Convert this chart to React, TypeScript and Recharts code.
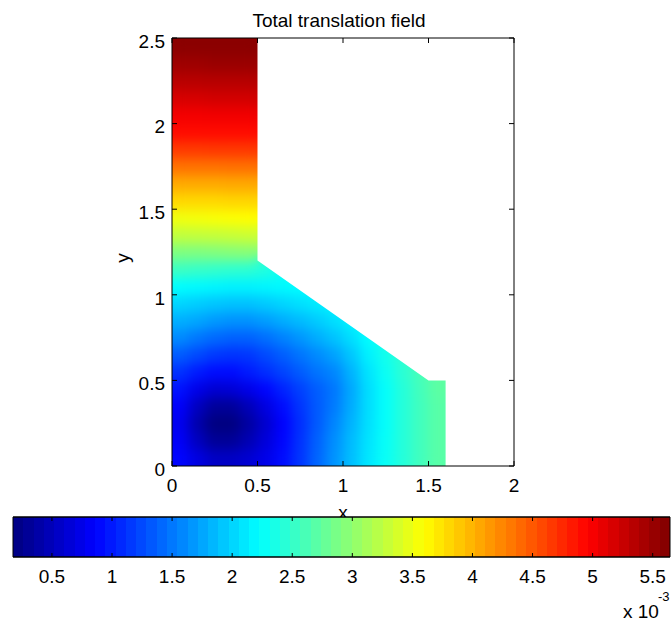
import { ComposedChart, Scatter, Area, XAxis, YAxis, ReferenceArea } from 'recharts'

const FONT = '"Liberation Sans", Arial, sans-serif'

const X_TICKS = [0, 0.5, 1, 1.5, 2]
const Y_TICKS = [0, 0.5, 1, 1.5, 2, 2.5]

// colour scale, in units of 1e-3
const CBAR_MIN = 0.176
const CBAR_MAX = 5.644
const CBAR_TICKS = [0.5, 1, 1.5, 2, 2.5, 3, 3.5, 4, 4.5, 5, 5.5]

// cell centres of the sampled field
const X_CENTERS = [0.05, 0.15, 0.25, 0.35, 0.45, 0.55, 0.65, 0.75, 0.85, 0.95, 1.05, 1.15, 1.25, 1.35, 1.45, 1.55]
const Y_CENTERS = [
  0.05, 0.15, 0.25, 0.35, 0.45, 0.55, 0.65, 0.75, 0.85, 0.95, 1.05, 1.15, 1.25,
  1.35, 1.45, 1.55, 1.65, 1.75, 1.85, 1.95, 2.05, 2.15, 2.25, 2.35, 2.45,
]

// translation (x 1e-3), one row per Y_CENTERS entry, read left to right
const FIELD = [
  [0.88, 0.7, 0.55, 0.55, 0.62, 0.74, 0.92, 1.14, 1.4, 1.65, 1.88, 2.1, 2.27, 2.42, 2.57, 2.7],
  [0.82, 0.52, 0.3, 0.3, 0.45, 0.66, 0.88, 1.12, 1.38, 1.62, 1.86, 2.08, 2.26, 2.42, 2.57, 2.7],
  [0.78, 0.42, 0.18, 0.18, 0.36, 0.6, 0.86, 1.1, 1.34, 1.57, 1.82, 2.06, 2.25, 2.42, 2.57, 2.7],
  [0.84, 0.52, 0.32, 0.32, 0.48, 0.7, 0.92, 1.14, 1.34, 1.52, 1.78, 2.05, 2.25, 2.42, 2.57, 2.7],
  [0.95, 0.74, 0.62, 0.64, 0.74, 0.88, 1.04, 1.2, 1.36, 1.5, 1.76, 2.05, 2.25, 2.42, 2.58, 2.72],
  [1.12, 1.0, 0.92, 0.92, 1.0, 1.1, 1.22, 1.35, 1.48, 1.58, 1.82, 2.08, 2.28, 2.45, 2.6, 2.72],
  [1.35, 1.25, 1.16, 1.13, 1.15, 1.25, 1.36, 1.48, 1.6, 1.72, 1.92, 2.15, 2.32, 2.48],
  [1.6, 1.5, 1.42, 1.38, 1.38, 1.45, 1.55, 1.66, 1.78, 1.9, 2.05, 2.22, 2.36],
  [1.8, 1.75, 1.68, 1.64, 1.64, 1.7, 1.78, 1.86, 1.95, 2.05, 2.16, 2.28],
  [2.0, 1.96, 1.92, 1.9, 1.9, 1.94, 2.0, 2.06, 2.12, 2.18, 2.24],
  [2.22, 2.2, 2.18, 2.16, 2.16, 2.18, 2.2, 2.22, 2.25],
  [2.55, 2.52, 2.5, 2.48, 2.46, 2.4, 2.3, 2.28],
  [2.9, 2.9, 2.92, 2.94, 2.95],
  [3.26, 3.27, 3.28, 3.3, 3.32],
  [3.52, 3.54, 3.56, 3.58, 3.6],
  [3.8, 3.8, 3.8, 3.82, 3.82],
  [4.05, 4.05, 4.05, 4.06, 4.06],
  [4.35, 4.35, 4.35, 4.36, 4.36],
  [4.65, 4.65, 4.66, 4.66, 4.66],
  [4.9, 4.9, 4.9, 4.9, 4.9],
  [5.02, 5.02, 5.03, 5.03, 5.03],
  [5.18, 5.18, 5.2, 5.2, 5.2],
  [5.34, 5.34, 5.35, 5.35, 5.35],
  [5.48, 5.48, 5.5, 5.5, 5.5],
  [5.58, 5.58, 5.58, 5.58, 5.58],
]

// upper/right edge of the part; everything above it is whited out
const EDGE_X = [0.5, 1.5, 1.6, 1.6, 2]
const EDGE_Y = [1.2, 0.5, 0.5, 0, 0]

function jetT(t: number) {
  const c = (k: number) => Math.round(255 * Math.min(1, Math.max(0, 1.5 - Math.abs(4 * t - k))))
  return `rgb(${c(3)},${c(2)},${c(1)})`
}

function jet(v: number) {
  const t = Math.min(1, Math.max(0, (v - CBAR_MIN) / (CBAR_MAX - CBAR_MIN)))
  return jetT(t)
}

const cells = FIELD.flatMap((row, j) => row.map((v, i) => ({ x: X_CENTERS[i], y: Y_CENTERS[j], v })))
const mask = EDGE_X.map((x, i) => ({ x, band: [EDGE_Y[i], 2.5] }))
const cbarPoints = CBAR_TICKS.map((v) => ({ v, h: 0.5 }))
const bands = Array.from({ length: 64 }, (_, i) => jetT((i + 0.5) / 64))

const CELL = 18

function Cell(props: any) {
  const { cx, cy, payload } = props
  return <rect x={cx - CELL / 2} y={cy - CELL / 2} width={CELL} height={CELL} fill={jet(payload.v)} />
}

// keeps an axis pair fed with data without drawing anything
const Nothing = () => <g />

const tickText = { fill: '#000', fontSize: 19 }
const noLabel = () => ''

export default function App() {
  return (
    <div style={{ position: 'absolute', left: 0, top: 0, width: 671, height: 625, background: '#fff', fontFamily: FONT }}>
      <style>{'.field { filter: url(#fieldBlur); }'}</style>
      <svg width={0} height={0} style={{ position: 'absolute' }}>
        <defs>
          <filter id="fieldBlur" x="-10%" y="-10%" width="120%" height="120%" colorInterpolationFilters="sRGB">
            <feGaussianBlur stdDeviation="6" />
            <feComponentTransfer>
              <feFuncA type="linear" slope="40" intercept="0" />
            </feComponentTransfer>
          </filter>
          <linearGradient id="jetBands" x1="0" x2="1" y1="0" y2="0">
            {bands.flatMap((c, i) => [
              <stop key={`a${i}`} offset={i / 64} stopColor={c} />,
              <stop key={`b${i}`} offset={(i + 1) / 64} stopColor={c} />,
            ])}
          </linearGradient>
        </defs>
      </svg>

      <div style={{ position: 'absolute', left: 0, top: 0 }}>
        <ComposedChart width={671} height={500} data={mask} margin={{ top: 32, right: 151, bottom: 4, left: 122 }}>
          <Scatter xAxisId="b" yAxisId="l" data={cells} className="field" shape={Cell} zIndex={50} isAnimationActive={false} />
          <Scatter xAxisId="t" yAxisId="r" data={cells} shape={Nothing} zIndex={50} isAnimationActive={false} />
          <Area xAxisId="b" yAxisId="l" dataKey="band" type="linear" stroke="none" fill="#fff" fillOpacity={1}
            dot={false} activeDot={false} zIndex={60} isAnimationActive={false} />
          <XAxis xAxisId="b" dataKey="x" type="number" domain={[0, 2]} ticks={X_TICKS} allowDataOverflow interval={0}
            tickSize={-5} tickMargin={18} height={30} stroke="#000" tick={tickText} />
          <XAxis xAxisId="t" orientation="top" dataKey="x" type="number" domain={[0, 2]} ticks={X_TICKS} allowDataOverflow interval={0}
            tickSize={-5} height={6} stroke="#000" tickFormatter={noLabel} />
          <YAxis yAxisId="l" dataKey="y" type="number" domain={[0, 2.5]} ticks={Y_TICKS} allowDataOverflow interval={0}
            tickSize={-5} tickMargin={12} width={50} stroke="#000" tick={{ ...tickText, dy: 3 }} />
          <YAxis yAxisId="r" orientation="right" dataKey="y" type="number" domain={[0, 2.5]} ticks={Y_TICKS} allowDataOverflow interval={0}
            tickSize={-5} width={6} stroke="#000" tickFormatter={noLabel} />
        </ComposedChart>
      </div>

      <svg width={671} height={625} style={{ position: 'absolute', left: 0, top: 0 }}>
        <text x={339} y={27} textAnchor="middle" fontSize={19} fill="#000">Total translation field</text>
        <text x={343} y={519} textAnchor="middle" fontSize={19} fill="#000">x</text>
        <text transform="translate(129,258) rotate(-90)" textAnchor="middle" fontSize={19} fill="#000">y</text>
      </svg>

      <div style={{ position: 'absolute', left: 0, top: 500 }}>
        <ComposedChart width={671} height={125} data={cbarPoints} margin={{ top: 13, right: 1, bottom: 38, left: 13 }}>
          <Scatter xAxisId="b" yAxisId="v" data={cbarPoints} shape={Nothing} isAnimationActive={false} />
          <Scatter xAxisId="t" yAxisId="v" data={cbarPoints} shape={Nothing} isAnimationActive={false} />
          <ReferenceArea xAxisId="b" yAxisId="v" x1={CBAR_MIN} x2={CBAR_MAX} y1={0} y2={1}
            fill="url(#jetBands)" fillOpacity={1} stroke="#000" ifOverflow="visible" />
          <XAxis xAxisId="b" dataKey="v" type="number" domain={[CBAR_MIN, CBAR_MAX]} ticks={CBAR_TICKS} allowDataOverflow interval={0}
            tickSize={-4} tickMargin={17} height={30} stroke="#000" tick={tickText} />
          <XAxis xAxisId="t" dataKey="v" orientation="top" type="number" domain={[CBAR_MIN, CBAR_MAX]} ticks={CBAR_TICKS} allowDataOverflow interval={0}
            tickSize={-4} height={4} stroke="#000" tickFormatter={noLabel} />
          <YAxis yAxisId="v" dataKey="h" hide type="number" domain={[0, 1]} />
        </ComposedChart>
      </div>

      <svg width={671} height={625} style={{ position: 'absolute', left: 0, top: 0, pointerEvents: 'none' }}>
        <text x={623} y={618} fontSize={19} fill="#000">x 10</text>
        <text x={658} y={601} fontSize={13} fill="#000">-3</text>
      </svg>
    </div>
  )
}
